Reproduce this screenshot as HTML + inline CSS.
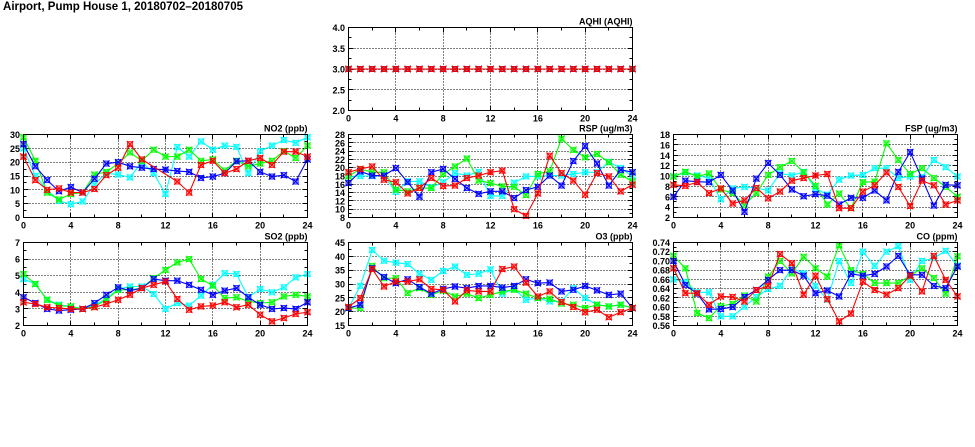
<!DOCTYPE html>
<html><head><meta charset="utf-8">
<style>
html,body{margin:0;padding:0;background:#fff;}
svg{display:block;}
text{font-family:"Liberation Sans",sans-serif;font-weight:bold;font-size:9px;fill:#000;}
.yl{text-anchor:end;}
.xl{text-anchor:middle;}
.tt{text-anchor:end;}
</style></head><body>
<svg id="s" width="975" height="447" viewBox="0 0 975 447" xmlns="http://www.w3.org/2000/svg">
<rect x="0" y="0" width="975" height="447" fill="#fff"/>
<text x="3" y="10" style="font-size:11.5px" textLength="240" lengthAdjust="spacingAndGlyphs">Airport, Pump House 1, 20180702–20180705</text>

<g id="p0" transform="translate(348.5,27.5)">
<text class="tt" x="284" y="-3">AQHI (AQHI)</text>
<text class="yl" x="-3.5" y="86.5">2.0</text>
<text class="yl" x="-3.5" y="65.75">2.5</text>
<text class="yl" x="-3.5" y="45">3.0</text>
<text class="yl" x="-3.5" y="24.25">3.5</text>
<text class="yl" x="-3.5" y="3.5">4.0</text>
<text class="xl" x="0" y="94">0</text><text class="xl" x="47.33" y="94">4</text><text class="xl" x="94.67" y="94">8</text><text class="xl" x="142" y="94">12</text><text class="xl" x="189.33" y="94">16</text><text class="xl" x="236.67" y="94">20</text><text class="xl" x="284" y="94">24</text>
</g>

<g id="p1" transform="translate(23.5,134.5)">
<text class="tt" x="284" y="-3">NO2 (ppb)</text>
<text class="yl" x="-3.5" y="86.5">0</text>
<text class="yl" x="-3.5" y="72.67">5</text>
<text class="yl" x="-3.5" y="58.83">10</text>
<text class="yl" x="-3.5" y="45">15</text>
<text class="yl" x="-3.5" y="31.17">20</text>
<text class="yl" x="-3.5" y="17.33">25</text>
<text class="yl" x="-3.5" y="3.5">30</text>
<text class="xl" x="0" y="94">0</text><text class="xl" x="47.33" y="94">4</text><text class="xl" x="94.67" y="94">8</text><text class="xl" x="142" y="94">12</text><text class="xl" x="189.33" y="94">16</text><text class="xl" x="236.67" y="94">20</text><text class="xl" x="284" y="94">24</text>
</g>

<g id="p2" transform="translate(348.5,134.5)">
<text class="tt" x="284" y="-3">RSP (ug/m3)</text>
<text class="yl" x="-3.5" y="86.5">8</text>
<text class="yl" x="-3.5" y="78.2">10</text>
<text class="yl" x="-3.5" y="69.9">12</text>
<text class="yl" x="-3.5" y="61.6">14</text>
<text class="yl" x="-3.5" y="53.3">16</text>
<text class="yl" x="-3.5" y="45">18</text>
<text class="yl" x="-3.5" y="36.7">20</text>
<text class="yl" x="-3.5" y="28.4">22</text>
<text class="yl" x="-3.5" y="20.1">24</text>
<text class="yl" x="-3.5" y="11.8">26</text>
<text class="yl" x="-3.5" y="3.5">28</text>
<text class="xl" x="0" y="94">0</text><text class="xl" x="47.33" y="94">4</text><text class="xl" x="94.67" y="94">8</text><text class="xl" x="142" y="94">12</text><text class="xl" x="189.33" y="94">16</text><text class="xl" x="236.67" y="94">20</text><text class="xl" x="284" y="94">24</text>
</g>

<g id="p3" transform="translate(673.5,134.5)">
<text class="tt" x="284" y="-3">FSP (ug/m3)</text>
<text class="yl" x="-3.5" y="86.5">2</text>
<text class="yl" x="-3.5" y="76.13">4</text>
<text class="yl" x="-3.5" y="65.75">6</text>
<text class="yl" x="-3.5" y="55.38">8</text>
<text class="yl" x="-3.5" y="45">10</text>
<text class="yl" x="-3.5" y="34.63">12</text>
<text class="yl" x="-3.5" y="24.25">14</text>
<text class="yl" x="-3.5" y="13.88">16</text>
<text class="yl" x="-3.5" y="3.5">18</text>
<text class="xl" x="0" y="94">0</text><text class="xl" x="47.33" y="94">4</text><text class="xl" x="94.67" y="94">8</text><text class="xl" x="142" y="94">12</text><text class="xl" x="189.33" y="94">16</text><text class="xl" x="236.67" y="94">20</text><text class="xl" x="284" y="94">24</text>
</g>

<g id="p4" transform="translate(23.5,242.5)">
<text class="tt" x="284" y="-3">SO2 (ppb)</text>
<text class="yl" x="-3.5" y="86.5">2</text>
<text class="yl" x="-3.5" y="69.9">3</text>
<text class="yl" x="-3.5" y="53.3">4</text>
<text class="yl" x="-3.5" y="36.7">5</text>
<text class="yl" x="-3.5" y="20.1">6</text>
<text class="yl" x="-3.5" y="3.5">7</text>
<text class="xl" x="0" y="94">0</text><text class="xl" x="47.33" y="94">4</text><text class="xl" x="94.67" y="94">8</text><text class="xl" x="142" y="94">12</text><text class="xl" x="189.33" y="94">16</text><text class="xl" x="236.67" y="94">20</text><text class="xl" x="284" y="94">24</text>
</g>

<g id="p5" transform="translate(348.5,242.5)">
<text class="tt" x="284" y="-3">O3 (ppb)</text>
<text class="yl" x="-3.5" y="86.5">15</text>
<text class="yl" x="-3.5" y="72.67">20</text>
<text class="yl" x="-3.5" y="58.83">25</text>
<text class="yl" x="-3.5" y="45">30</text>
<text class="yl" x="-3.5" y="31.17">35</text>
<text class="yl" x="-3.5" y="17.33">40</text>
<text class="yl" x="-3.5" y="3.5">45</text>
<text class="xl" x="0" y="94">0</text><text class="xl" x="47.33" y="94">4</text><text class="xl" x="94.67" y="94">8</text><text class="xl" x="142" y="94">12</text><text class="xl" x="189.33" y="94">16</text><text class="xl" x="236.67" y="94">20</text><text class="xl" x="284" y="94">24</text>
</g>

<g id="p6" transform="translate(673.5,242.5)">
<text class="tt" x="284" y="-3">CO (ppm)</text>
<text class="yl" x="-3.5" y="86.5">0.56</text>
<text class="yl" x="-3.5" y="77.28">0.58</text>
<text class="yl" x="-3.5" y="68.06">0.60</text>
<text class="yl" x="-3.5" y="58.83">0.62</text>
<text class="yl" x="-3.5" y="49.61">0.64</text>
<text class="yl" x="-3.5" y="40.39">0.66</text>
<text class="yl" x="-3.5" y="31.17">0.68</text>
<text class="yl" x="-3.5" y="21.94">0.70</text>
<text class="yl" x="-3.5" y="12.72">0.72</text>
<text class="yl" x="-3.5" y="3.5">0.74</text>
<text class="xl" x="0" y="94">0</text><text class="xl" x="47.33" y="94">4</text><text class="xl" x="94.67" y="94">8</text><text class="xl" x="142" y="94">12</text><text class="xl" x="189.33" y="94">16</text><text class="xl" x="236.67" y="94">20</text><text class="xl" x="284" y="94">24</text>
</g>
</svg>
<script>
(function(){
var NS='http://www.w3.org/2000/svg';
var W=284,H=83;
var C=['#00ffff','#00ff00','#0000ff','#ff0000'];
function el(tag,a,p){var e=document.createElementNS(NS,tag);for(var k in a)e.setAttribute(k,a[k]);p.appendChild(e);return e;}
function fill(v){var a=[];for(var i=0;i<25;i++)a.push(v);return a;}
var P=[
{id:'p0',ymin:2,ymax:4,maj:0.5,sub:2,d:[fill(3),fill(3),fill(3),fill(3)]},
{id:'p1',ymin:0,ymax:30,maj:5,sub:2,d:[
[25,15,10,6,4.8,5.8,12,16,15.5,14.5,20,16,8.5,25.5,22,27.5,24.5,26,25.5,16,24,26,28,27,29],
[29,20.5,9,6.5,8.5,9,15.5,16.5,19.5,23.5,20.5,24.5,22,22,24.5,20.5,21,17,20.5,18.5,19.5,20.5,24,21.5,26],
[26.5,18.5,13.5,9.5,11,9,14,19.5,20,18.5,18,17.5,17.3,16.8,16.5,14.3,14.8,16,20.3,20.5,16.5,14.8,15.3,13,21],
[22,13.5,10,10.5,9,9,10.3,15.3,18,26.5,21,null,null,13,9,19,20.5,16,17.5,20.5,21.5,19,23.8,23.8,22]]},
{id:'p2',ymin:8,ymax:28,maj:2,sub:2,d:[
[17.9,18,18,18,14.2,16.7,16.7,15.3,16.5,18.7,18.1,19,13.2,13.2,16.4,17.9,17.9,18.1,18.1,18.5,18.9,18.9,21.4,19.9,17.9],
[17.9,19.7,18.9,18.9,14.7,14.3,15.1,15.1,18.5,20.3,22.2,16.9,16.3,15.5,15.4,13.4,18.5,19.1,27,24.3,22.5,23.3,21.3,18.3,16.7],
[16.3,19.1,18.1,18.1,19.9,16.5,13,18.9,19.7,17.3,15.1,13.7,14.3,14.3,12.7,14.6,15.4,18.1,15.7,21.6,25.2,21,15.7,19.5,18.9],
[18.9,19.7,20.3,17.1,16.5,13.8,15.1,17.5,15.6,15.7,17.5,18.1,18.9,19.3,10,8.4,13.8,22.9,18.7,16.9,13.5,18.7,17.9,14.3,15.9]]},
{id:'p3',ymin:2,ymax:18,maj:2,sub:2,d:[
[9.9,10.7,10.1,9.6,5.5,7.6,7.9,7.7,7.2,10.5,10.1,10.8,7.6,6.4,9.3,10.1,10.2,11.5,11.5,9.6,9.9,9.8,13.1,11.7,9.9],
[9.9,10.8,9.9,10.5,7.4,6.7,4.4,6.7,10.2,11.7,12.9,10.7,8.1,4.5,6.6,3.8,8.8,8.9,16.3,13.1,10.4,11.5,9.6,7.9,6],
[6,9.1,8.9,8.8,10.2,7.2,3.1,9.5,12.5,10.2,7.4,6.1,6.5,6.2,4.5,5.8,5.8,7.2,5.3,10.8,14.6,9.5,4.3,8.3,8.2],
[8.3,8.1,8.8,6.7,7.6,4.7,5.3,7.7,5.7,7,9.1,9.6,10.1,10.4,3.8,3.8,7,8.2,10.7,7.9,4.2,9.1,8.2,4.5,5.3]]},
{id:'p4',ymin:2,ymax:7,maj:1,sub:2,d:[
[4.8,4.5,3.55,3.25,3.15,3,3.25,3.6,4.2,4.35,4.35,3.9,3,3.35,3.2,3.8,4.45,5.15,5.1,3.7,4.2,4,4.3,4.9,5.1],
[5.1,4.5,3.55,3.2,3.15,3,3.15,3.55,4.15,4.15,4.25,4.85,5.35,5.8,6,4.8,4.4,3.65,3.7,3.45,3.35,3.4,3.75,3.85,3.75],
[3.7,3.35,3,2.9,2.95,3,3.35,3.85,4.3,4.1,4.25,4.8,4.7,4.7,4.45,4.15,3.85,4.1,4.25,3.7,3.25,3,3.05,3,3.4],
[3.4,3.3,3.1,3.05,3,3,3.1,3.3,3.55,3.85,4.25,4.45,4.65,3.6,2.95,3.15,3.2,3.4,3.1,3.25,2.65,2.25,2.45,2.7,2.8]]},
{id:'p5',ymin:15,ymax:45,maj:5,sub:2,d:[
[21.3,29.3,42.3,38.4,37.7,37.2,33.7,31.5,34.7,36.3,33.3,33.7,35.3,26.5,28.2,24.3,24.9,23.7,23.7,28.5,24.9,22.5,21.9,22.5,21.3],
[21.3,21.3,36.5,32.1,32.1,26.7,28.5,26.1,27.6,25.5,26.5,24.9,26.1,27.3,27.9,26.5,24.9,24.7,22.9,22.5,21.3,22.5,21.9,22.5,21.3],
[21.3,22.5,35.7,32.5,30.3,31.7,28.9,26.5,28.2,29.1,28.5,29.3,29.3,28.7,29.3,31.7,30.3,30.5,27.3,27.9,29.3,27.7,26.1,26.5,21.3],
[21.7,24.9,35.4,29.1,30.9,30.9,31.7,28.2,27.9,23.7,27.7,27.3,27.3,35.4,36.3,30.5,25.5,27.3,23.5,21.7,19.8,20.7,18,19.8,21.3]]},
{id:'p6',ymin:0.56,ymax:0.74,maj:0.02,sub:2,d:[
[0.66,0.655,0.632,0.632,0.58,0.58,0.601,0.622,0.639,0.646,0.684,0.673,0.646,0.616,0.70,0.652,0.72,0.689,0.72,0.732,0.659,0.70,0.706,0.722,0.69],
[0.711,0.684,0.587,0.576,0.602,0.607,0.625,0.612,0.666,0.70,0.673,0.709,0.684,0.666,0.734,0.68,0.672,0.652,0.652,0.652,0.668,0.684,0.663,0.629,0.71],
[0.70,0.648,0.629,0.595,0.596,0.60,0.622,0.637,0.659,0.68,0.68,0.668,0.63,0.636,0.623,0.672,0.668,0.672,0.688,0.711,0.67,0.67,0.646,0.641,0.688],
[0.684,0.63,0.63,0.605,0.623,0.622,0.612,0.637,0.646,0.715,0.695,0.627,0.668,0.617,0.569,0.586,0.655,0.637,0.627,0.641,0.668,0.634,0.711,0.659,0.623]]}
];
P.forEach(function(p){
  var g=document.getElementById(p.id);
  var gg=document.createElementNS(NS,'g');
  g.insertBefore(gg,g.firstChild);
  var Y=function(v){return H-(v-p.ymin)/(p.ymax-p.ymin)*H;};
  var X=function(h){return h*W/24;};
  var d='';
  for(var h=4;h<24;h+=4){var x=Math.round(X(h));d+='M'+x+' 0V'+H;}
  var nm=Math.round((p.ymax-p.ymin)/p.maj);
  for(var i=1;i<nm;i++){var y=Math.round(Y(p.ymin+i*p.maj));d+='M0 '+y+'H'+W;}
  el('path',{d:d,stroke:'#000','stroke-width':1,'stroke-dasharray':'1,2',fill:'none'},gg);
  var t='';
  for(var h2=0;h2<=24;h2+=2){var x2=Math.round(X(h2));var L=(h2%4==0)?5:3;t+='M'+x2+' 0v'+L+'M'+x2+' '+H+'v'+(-L);}
  var n=nm*p.sub;
  for(var j=0;j<=n;j++){var y2=Math.round(Y(p.ymin+j*p.maj/p.sub));var L2=(j%p.sub==0)?5:3;t+='M0 '+y2+'h'+L2+'M'+W+' '+y2+'h'+(-L2);}
  el('path',{d:t,stroke:'#000','stroke-width':1,fill:'none'},gg);
  p.d.forEach(function(s,k){
    var c=C[k];var pts=[];
    s.forEach(function(v,h){if(v!==null&&v!==undefined)pts.push([X(h),Y(v)]);});
    el('polyline',{points:pts.map(function(q){return q[0].toFixed(2)+','+q[1].toFixed(2);}).join(' '),fill:'none',stroke:c,'stroke-width':1.1},gg);
    pts.forEach(function(q){
      var x=q[0],y=q[1],r=2.5,r2=3.2;
      el('rect',{x:(x-r).toFixed(2),y:(y-r).toFixed(2),width:2*r,height:2*r,fill:c,'fill-opacity':0.25,stroke:c,'stroke-width':0.8},gg);
      el('path',{d:'M'+(x-r2).toFixed(2)+' '+(y-r2).toFixed(2)+'L'+(x+r2).toFixed(2)+' '+(y+r2).toFixed(2)+'M'+(x+r2).toFixed(2)+' '+(y-r2).toFixed(2)+'L'+(x-r2).toFixed(2)+' '+(y+r2).toFixed(2),stroke:c,'stroke-width':1.1},gg);
    });
  });
  el('rect',{x:0,y:0,width:W,height:H,fill:'none',stroke:'#000','stroke-width':1},gg);
});
})();
</script>
</body></html>
